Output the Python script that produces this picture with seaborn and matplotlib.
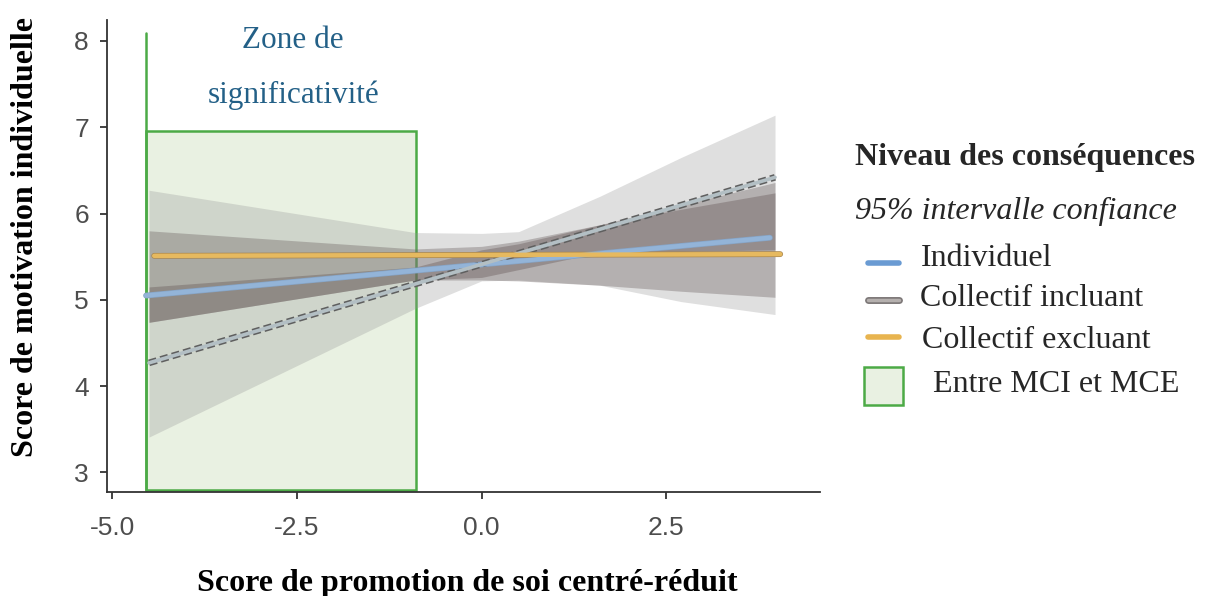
import matplotlib

matplotlib.use("Agg")

import matplotlib.pyplot as plt
import pandas as pd
import seaborn as sns
from matplotlib.lines import Line2D
from matplotlib.patches import Rectangle

# regression lines (endpoints)
individuel_x = [-4.54, 3.90]
individuel_y = [5.05, 5.72]
incluant_x = [-4.50, 3.97]
incluant_y = [4.27, 6.42]
excluant_x = [-4.43, 4.04]
excluant_y = [5.51, 5.53]

# confidence bands, read at a few x positions
band_x = [-4.5, -0.9, 0.0, 0.5, 1.6, 2.7, 3.97]
band_a_lo = [3.41, 4.90, 5.22, 5.23, 5.17, 4.98, 4.83]
band_a_hi = [6.27, 5.78, 5.77, 5.79, 6.20, 6.65, 7.14]
band_b_lo = [4.74, 5.23, 5.23, 5.22, 5.17, 5.10, 5.03]
band_b_hi = [5.80, 5.59, 5.62, 5.68, 5.87, 6.10, 6.36]
band_c_lo = [4.74, 5.23, 5.26, 5.35, 5.55, 5.56, 5.58]
band_c_hi = [5.15, 5.38, 5.58, 5.65, 5.87, 6.05, 6.24]

# Johnson-Neyman zone
zone_x = [-4.54, -0.89]
zone_y = [2.80, 6.96]
zone_line_top = 8.09
zone_label_x = -2.55
zone_label_y = [8.01, 7.37]
zone_label = ["Zone de", "significativité"]

x_ticks = [-5.0, -2.5, 0.0, 2.5]
y_ticks = [3, 4, 5, 6, 7, 8]

legend_title = "Niveau des conséquences"
legend_subtitle = "95% intervalle confiance"
legend_labels = ["Individuel", "Collectif incluant", "Collectif excluant"]
zone_legend_label = "Entre MCI et MCE"

serif = ["Liberation Serif", "DejaVu Serif"]

sns.set_theme(style="ticks")
plt.rcParams["font.family"] = ["Liberation Sans", "DejaVu Sans"]

fig = plt.figure(figsize=(12.11, 5.96), dpi=100)
ax = fig.add_axes([0.0884, 0.1745, 0.5888, 0.792])

# zone de significativite
ax.add_patch(Rectangle((zone_x[0], zone_y[0]), zone_x[1] - zone_x[0], zone_y[1] - zone_y[0],
                       facecolor="#e9f1e2", edgecolor="#4caa46", linewidth=1.8, zorder=0.5))
ax.plot([zone_x[0], zone_x[0]], [zone_y[0], zone_line_top], color="#4caa46", linewidth=1.8, zorder=0.6)
for text, ty in zip(zone_label, zone_label_y):
    ax.text(zone_label_x, ty, text, family=serif, fontsize=22.5, color="#236087",
            ha="center", va="center")

# confidence bands
ax.fill_between(band_x, band_a_lo, band_a_hi, color="#969696", alpha=0.3, linewidth=0, zorder=1)
ax.fill_between(band_x, band_b_lo, band_b_hi, color="#6e6464", alpha=0.38, linewidth=0, zorder=1.1)
ax.fill_between(band_x, band_c_lo, band_c_hi, color="#645555", alpha=0.375, linewidth=0, zorder=1.2)

lines = pd.DataFrame({
    "x": individuel_x + incluant_x + excluant_x,
    "y": individuel_y + incluant_y + excluant_y,
    "niveau": [legend_labels[0]] * 2 + [legend_labels[1]] * 2 + [legend_labels[2]] * 2,
})

styles = {
    "Individuel": ("#93b4d8", "#86a4c6", "-", 4.2, 3.2),
    "Collectif incluant": ("#b3bfc4", "#5f5f5f", (0, (1.2, 0.6)), 4.8, 2.6),
    "Collectif excluant": ("#e6b95f", "#a88650", "-", 4.2, 3.2),
}
for name, group in lines.groupby("niveau", sort=False):
    color, edge, dash, outer, inner = styles[name]
    sns.lineplot(data=group, x="x", y="y", color=edge, linewidth=outer, linestyle=dash,
                 ax=ax, zorder=3, estimator=None)
    sns.lineplot(data=group, x="x", y="y", color=color, linewidth=inner,
                 ax=ax, zorder=3.1, estimator=None)

ax.set_xlim(-5.068, 4.58)
ax.set_ylim(2.774, 8.243)
ax.set_xticks(x_ticks)
ax.set_xticklabels([f"{t:.1f}" for t in x_ticks])
ax.set_yticks(y_ticks)
ax.tick_params(labelsize=19, labelcolor="#4d4d4d", color="#333333", length=5, width=1.3)
ax.tick_params(axis="x", pad=12)
ax.tick_params(axis="y", pad=8)
sns.despine(ax=ax)
for side in ["left", "bottom"]:
    ax.spines[side].set_color("#333333")
    ax.spines[side].set_linewidth(1.3)

ax.set_xlabel("Score de promotion de soi centré-réduit", family=serif, fontsize=23,
              fontweight="bold", color="black", va="center")
ax.set_ylabel("Score de motivation individuelle", family=serif, fontsize=23,
              fontweight="bold", color="black", va="center")
ax.xaxis.set_label_coords(0.505, -0.194)
ax.yaxis.set_label_coords(-0.115, 0.54)

# legend drawn on the figure
W, H = 1211, 596
fig.text(855 / W, 1 - 157 / H, legend_title, family=serif, fontsize=23,
         fontweight="bold", va="center")
fig.text(855 / W, 1 - 211 / H, legend_subtitle, family=serif, fontsize=23,
         style="italic", va="center")
legend_rows = [
    ("#6a9bd3", "#6a9bd3", 4.0, 263, 258, 921),
    ("#b5b0ae", "#7d7878", 5.0, 300, 299, 920),
    ("#e8b44f", "#e8b44f", 4.0, 337, 341, 922),
]
for label, (color, edge, lw, yline, ytext, xtext) in zip(legend_labels, legend_rows):
    y = 1 - yline / H
    fig.add_artist(Line2D([868 / W, 899 / W], [y, y], color=edge, linewidth=lw,
                          transform=fig.transFigure))
    fig.add_artist(Line2D([868 / W, 899 / W], [y, y], color=color, linewidth=lw * 0.5,
                          transform=fig.transFigure))
    fig.text(xtext / W, 1 - ytext / H, label, family=serif, fontsize=23, va="center")
fig.add_artist(Rectangle((864 / W, 1 - 405 / H), 39 / W, 38 / H, facecolor="#e9f1e2",
                         edgecolor="#4caa46", linewidth=1.8, transform=fig.transFigure))
fig.text(933 / W, 1 - 384 / H, zone_legend_label, family=serif, fontsize=23, va="center")

fig.savefig("out.png", dpi=100, facecolor="white")
